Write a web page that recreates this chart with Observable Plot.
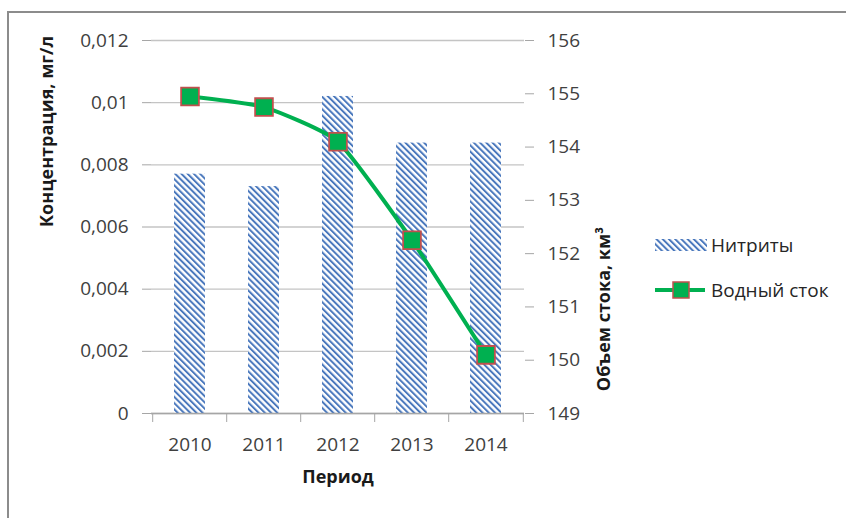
<!DOCTYPE html>
<html>
<head>
<meta charset="utf-8">
<script src="https://cdn.jsdelivr.net/npm/d3@7"></script>
<script src="https://cdn.jsdelivr.net/npm/@observablehq/plot@0.6"></script>
<style>
  html, body { margin: 0; padding: 0; background: #fff; }
  body { width: 846px; height: 518px; overflow: hidden; position: relative; font-family: "Open Sans", sans-serif; }
  #frame { position: absolute; left: 7px; top: 11px; width: 900px; height: 600px; border: 2px solid #8c8c8c; box-sizing: border-box; }
  #chart { position: absolute; left: 0; top: 0; }
  #legend { position: absolute; left: 655px; top: 228px; font-size: 19px; color: #262626; }
  .item { display: flex; align-items: center; height: 34px; margin-bottom: 11px; }
  .item svg { margin-right: 4px; }
</style>
</head>
<body>
<svg width="0" height="0" style="position:absolute">
  <defs>
    <pattern id="hatch" patternUnits="userSpaceOnUse" width="4.4" height="4.4" patternTransform="rotate(-45)">
      <rect x="0" y="0" width="4.4" height="4.4" fill="#ffffff"></rect>
      <rect x="0" y="0" width="2" height="4.4" fill="#4a78bd"></rect>
    </pattern>
  </defs>
</svg>
<div id="frame"></div>
<div id="chart"></div>
<div id="legend">
  <div class="item">
    <svg width="52" height="12"><rect x="0" y="0" width="52" height="12" fill="url(#hatch)"></rect></svg>
    <span>Нитриты</span>
  </div>
  <div class="item">
    <svg width="52" height="22">
      <line x1="0" y1="11" x2="50" y2="11" stroke="#00b050" stroke-width="4"></line>
      <rect x="18" y="3" width="16" height="16" fill="#00b050" stroke="#c0504d" stroke-width="1.5"></rect>
    </svg>
    <span>Водный сток</span>
  </div>
</div>
<script>
// Nitrite concentration (mg/l) and annual water runoff (km³) by year
const years = ["2010", "2011", "2012", "2013", "2014"];
const nitrites = [0.0077, 0.0073, 0.0102, 0.0087, 0.0087];
const runoff = [154.95, 154.75, 154.1, 152.25, 150.1];

// Left axis (concentration) and right axis (runoff volume)
const leftTicks = [0, 0.002, 0.004, 0.006, 0.008, 0.01, 0.012];
const leftTickLabels = ["0", "0,002", "0,004", "0,006", "0,008", "0,01", "0,012"];
const rightTicks = [149, 150, 151, 152, 153, 154, 155, 156];

const leftDomain = [0, 0.012];
const rightDomain = [149, 156];
// map a runoff value onto the concentration scale so both share one y scale
const toLeft = v => (v - rightDomain[0]) / (rightDomain[1] - rightDomain[0]) * (leftDomain[1] - leftDomain[0]) + leftDomain[0];
const fromLeft = v => (v - leftDomain[0]) / (leftDomain[1] - leftDomain[0]) * (rightDomain[1] - rightDomain[0]) + rightDomain[0];

const rows = years.map((year, i) => ({year, nitrites: nitrites[i], runoff: runoff[i]}));

const W = 846, H = 518;
const mL = 151, mR = 322, mT = 40, mB = 105;
const step = (W - mL - mR) / years.length;

const axisGray = "#a6a6a6";
const textGray = "#404040";

const chart = Plot.plot({
  width: W,
  height: H,
  marginLeft: mL,
  marginRight: mR,
  marginTop: mT,
  marginBottom: mB,
  style: {fontFamily: "Open Sans, sans-serif", fontSize: "19px", background: "transparent", overflow: "visible"},
  x: {type: "band", domain: years, paddingInner: 0.585, paddingOuter: 0.2925, label: null},
  y: {domain: leftDomain, nice: false, label: null},
  marks: [
    Plot.gridY(leftTicks, {stroke: "#c4c4c4", strokeOpacity: 1, strokeWidth: 1.4}),
    Plot.barY(rows, {x: "year", y: "nitrites", fill: "url(#hatch)"}),
    Plot.ruleY([0], {stroke: axisGray, strokeWidth: 1.4}),
    // left axis
    Plot.axisY(leftTicks, {
      anchor: "left", label: null, line: true, tickSize: 9, tickPadding: 14,
      stroke: axisGray, fill: textGray, fontSize: 19,
      tickFormat: d => leftTickLabels[leftTicks.indexOf(d)]
    }),
    // right axis
    Plot.axisY(rightTicks.map(toLeft), {
      anchor: "right", label: null, line: true, tickSize: 9, tickPadding: 14,
      stroke: axisGray, fill: textGray, fontSize: 19,
      tickFormat: d => String(Math.round(fromLeft(d)))
    }),
    // category boundary tick marks
    Plot.axisX(years, {anchor: "bottom", label: null, tickSize: 9, dx: -step / 2, stroke: axisGray, tickFormat: () => ""}),
    Plot.axisX(years.slice(-1), {anchor: "bottom", label: null, tickSize: 9, dx: step / 2, stroke: axisGray, tickFormat: () => ""}),
    // year labels
    Plot.axisX(years, {anchor: "bottom", label: null, tickSize: 0, tickPadding: 24, fill: textGray, fontSize: 19}),
    // runoff line (smoothed)
    Plot.line(rows, {x: "year", y: d => toLeft(d.runoff), stroke: "#00b050", strokeWidth: 4, curve: "cardinal", tension: 0.5}),
    Plot.dot(rows, {x: "year", y: d => toLeft(d.runoff), symbol: "square", r: 10, fill: "#00b050", stroke: "#c0504d", strokeWidth: 1.8}),
    // axis titles
    Plot.text(["Концентрация, мг/л"], {frameAnchor: "left", dx: -104, rotate: -90, fontWeight: "bold", fontSize: 18, fill: "#1a1a1a"}),
    Plot.text(["Объем стока, км³"], {frameAnchor: "right", dx: 80, rotate: -90, fontWeight: "bold", fontSize: 18, fill: "#1a1a1a"}),
    Plot.text(["Период"], {frameAnchor: "bottom", dy: 69, fontWeight: "bold", fontSize: 18, fill: "#1a1a1a"})
  ]
});

document.getElementById("chart").appendChild(chart);
</script>
</body>
</html>
